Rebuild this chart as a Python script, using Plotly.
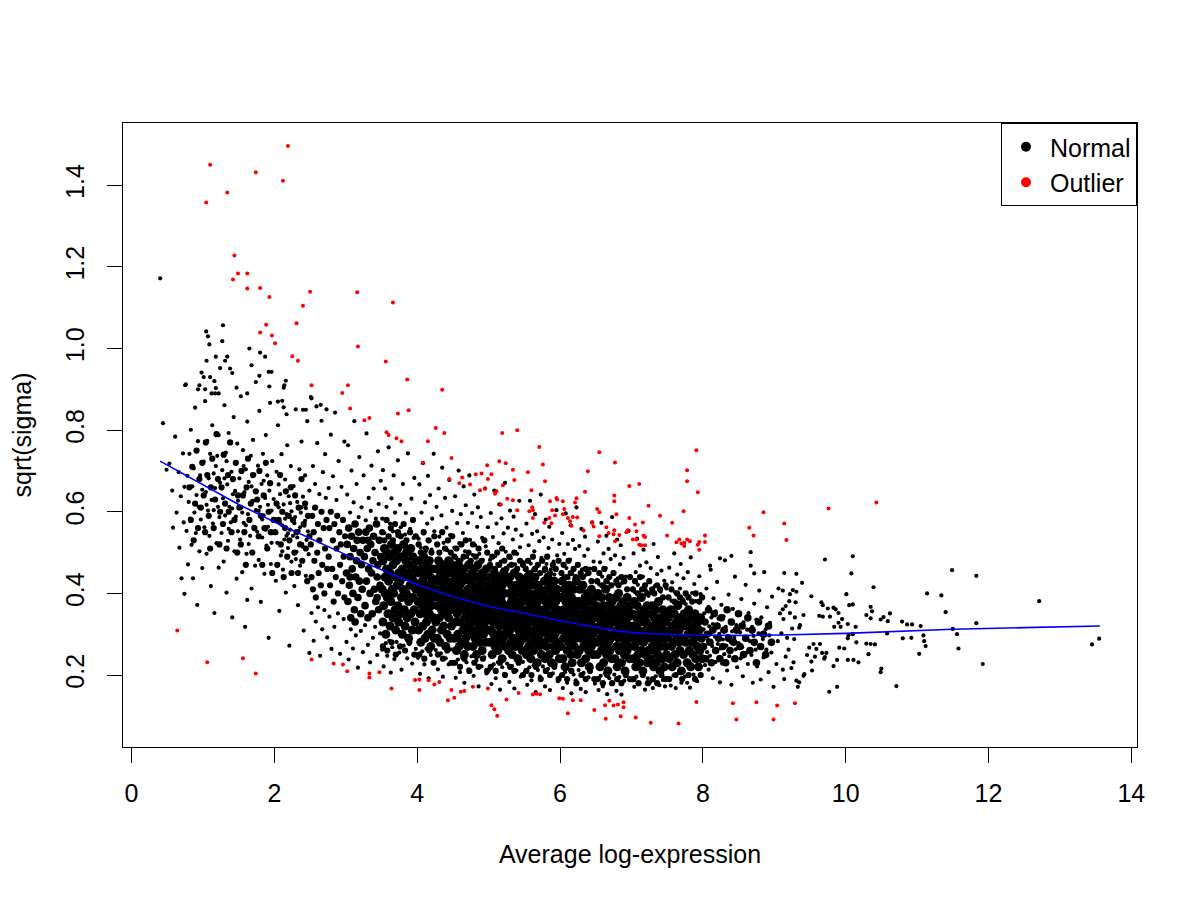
import plotly.graph_objects as go

# ---------------- data ----------------
# sparse left part of the cloud (x < 2.5)
left_pts = [
 (0.40,1.172),(0.44,0.817),(0.49,0.703),(0.53,0.718),(0.57,0.652),(0.58,0.561),(0.61,0.784),(0.63,0.598),
 (0.66,0.697),(0.67,0.512),(0.69,0.638),(0.70,0.437),(0.72,0.743),(0.73,0.574),(0.74,0.661),(0.74,0.399),
 (0.75,0.91),(0.76,0.912),(0.77,0.553),(0.78,0.688),(0.79,0.471),(0.80,0.624),(0.81,0.742),(0.82,0.583),
 (0.83,0.801),(0.84,0.519),(0.85,0.662),(0.86,0.437),(0.87,0.706),(0.88,0.598),(0.89,0.855),(0.90,0.548),
 (0.91,0.641),(0.92,0.372),(0.93,0.773),(0.94,0.612),(0.95,0.503),(0.96,0.689),(0.97,0.581),(0.98,0.941),
 (0.99,0.654),(0.99,0.462),(0.93,0.90),(0.95,0.91),
 (1.01,0.723),(1.02,0.562),(1.03,0.871),(1.04,0.648),(1.045,1.042),(1.05,0.497),(1.06,0.774),(1.07,1.03),
 (1.07,0.603),(1.08,0.682),(1.09,1.01),(1.09,0.541),(1.10,0.742),(1.11,0.418),(1.12,0.629),(1.13,0.812),
 (1.14,0.571),(1.15,0.694),(1.16,0.352),(1.17,0.658),(1.18,0.903),(1.19,0.523),(1.20,0.737),(1.21,0.612),
 (1.22,0.463),(1.22,0.788),(1.23,0.587),(1.24,0.671),(1.24,0.952),(1.15,0.604),(1.05,0.617),(1.18,0.712),
 (1.01,0.93),(1.03,0.90),(1.05,0.97),(1.10,0.93),(1.12,0.89),(1.16,0.92),(1.17,0.89),(1.18,0.98),(1.22,0.89),
 (1.26,0.548),(1.27,0.702),(1.27,1.018),(1.28,1.057),(1.28,0.633),(1.29,0.478),(1.30,0.861),(1.31,0.591),
 (1.31,0.97),(1.32,0.745),(1.33,0.402),(1.34,0.667),(1.34,0.98),(1.35,0.529),(1.36,0.793),(1.37,0.612),
 (1.38,0.951),(1.39,0.574),(1.40,0.698),(1.41,0.341),(1.41,0.94),(1.42,0.643),(1.43,0.832),(1.44,0.503),
 (1.45,0.719),(1.46,0.588),(1.47,0.436),(1.48,0.767),(1.49,0.627),(1.49,0.552),(1.30,0.682),(1.36,0.558),
 (1.41,0.608),(1.45,0.651),(1.33,0.724),(1.47,0.904),
 (1.51,0.682),(1.52,0.532),(1.53,0.883),(1.54,0.611),(1.55,0.452),(1.56,0.751),(1.57,0.573),(1.58,0.648),
 (1.59,0.318),(1.60,0.704),(1.61,0.497),(1.62,0.821),(1.62,0.89),(1.63,0.594),(1.64,0.673),(1.65,1.0),
 (1.66,0.541),(1.67,0.737),(1.68,0.412),(1.68,0.959),(1.69,0.627),(1.70,0.776),(1.71,0.563),(1.72,0.691),
 (1.73,0.468),(1.74,0.918),(1.74,0.604),(1.55,0.598),(1.60,0.567),(1.64,0.521),(1.68,0.662),(1.71,0.627),
 (1.57,0.712),(1.62,0.384),
 (1.76,0.551),(1.77,0.713),(1.78,0.482),(1.79,0.847),(1.79,0.933),(1.80,0.99),(1.80,0.612),(1.81,0.379),
 (1.82,0.668),(1.83,0.537),(1.84,0.742),(1.85,0.591),(1.86,0.448),(1.87,0.98),(1.87,0.634),(1.88,0.788),
 (1.89,0.517),(1.90,0.689),(1.91,0.563),(1.92,0.291),(1.92,0.943),(1.93,0.652),(1.93,0.907),(1.94,0.867),
 (1.95,0.472),(1.96,0.603),(1.96,0.943),(1.97,0.724),(1.98,0.548),(1.99,0.631),(1.78,0.602),(1.83,0.581),
 (1.88,0.556),(1.91,0.617),(1.96,0.524),(1.85,0.676),
 (2.01,0.582),(2.02,0.431),(2.03,0.698),(2.04,0.524),(2.05,0.812),(2.05,0.87),(2.06,0.611),(2.07,0.357),
 (2.08,0.643),(2.09,0.493),(2.10,0.741),(2.11,0.567),(2.11,0.872),(2.12,0.458),(2.13,0.904),(2.13,0.618),
 (2.13,0.856),(2.14,0.532),(2.14,0.91),(2.15,0.679),(2.16,0.402),(2.16,0.921),(2.17,0.594),(2.17,0.839),
 (2.18,0.763),(2.19,0.511),(2.20,0.638),(2.21,0.272),(2.22,0.556),(2.23,0.712),(2.24,0.478),(2.24,0.601),
 (2.03,0.548),(2.08,0.571),(2.11,0.503),(2.15,0.583),(2.19,0.547),(2.22,0.621),(2.06,0.667),(2.17,0.541),
 (2.26,0.541),(2.27,0.663),(2.28,0.418),(2.29,0.587),(2.30,0.851),(2.31,0.502),(2.32,0.624),(2.33,0.371),
 (2.34,0.553),(2.35,0.704),(2.36,0.468),(2.37,0.598),(2.38,0.772),(2.39,0.521),(2.40,0.637),(2.40,0.85),
 (2.41,0.309),(2.42,0.566),(2.43,0.689),(2.44,0.443),(2.44,0.85),(2.45,0.531),(2.46,0.822),(2.47,0.587),
 (2.48,0.496),(2.49,0.652),(2.49,0.254),(2.28,0.572),(2.32,0.537),(2.36,0.562),(2.40,0.514),(2.44,0.609),
 (2.47,0.552),(2.30,0.484),(2.38,0.611),(2.43,0.578),
]

# moderately dense zone: left band, x 2.5-3.0 band, edges of the dense core
mid_pts = [
 (0.81,.66),(0.83,.58),(0.85,.71),(0.87,.53),(0.89,.62),(0.91,.75),(0.93,.56),(0.95,.68),(0.97,.61),(0.99,.72),
 (1.01,.64),(1.03,.55),(1.04,.77),(1.06,.69),(1.08,.59),(1.10,.51),(1.11,.66),(1.13,.73),(1.15,.56),(1.17,.63),
 (1.19,.79),(1.21,.68),(1.23,.52),(1.24,.60),
 (1.26,.66),(1.28,.57),(1.29,.74),(1.31,.62),(1.33,.51),(1.35,.69),(1.36,.60),(1.38,.77),(1.40,.55),(1.42,.68),
 (1.44,.58),(1.46,.72),(1.48,.50),(1.49,.64),
 (1.51,.61),(1.53,.52),(1.54,.70),(1.56,.64),(1.58,.55),(1.60,.47),(1.61,.66),(1.63,.73),(1.65,.58),(1.67,.62),
 (1.69,.50),(1.70,.69),(1.72,.56),(1.74,.65),
 (1.76,.63),(1.78,.54),(1.79,.70),(1.81,.59),(1.83,.47),(1.85,.64),(1.86,.56),(1.88,.72),(1.90,.51),(1.92,.60),
 (1.94,.67),(1.95,.55),(1.97,.45),(1.99,.58),
 (2.01,.55),(2.03,.62),(2.04,.47),(2.06,.58),(2.08,.69),(2.09,.52),(2.11,.60),(2.13,.44),(2.15,.56),(2.16,.65),
 (2.18,.49),(2.20,.59),(2.21,.53),(2.23,.66),(2.24,.45),
 (2.26,.58),(2.28,.50),(2.29,.64),(2.31,.55),(2.33,.45),(2.34,.61),(2.36,.52),(2.38,.68),(2.39,.48),(2.41,.57),
 (2.43,.62),(2.44,.51),(2.46,.43),(2.47,.59),(2.49,.54),
 (2.51,.52),(2.52,.44),(2.53,.59),(2.54,.41),(2.55,.55),(2.56,.48),(2.57,.61),(2.58,.39),(2.60,.50),(2.61,.57),
 (2.62,.45),(2.63,.53),(2.65,.42),(2.66,.60),(2.67,.47),(2.69,.56),(2.70,.40),(2.71,.51),(2.73,.58),(2.74,.46),
 (2.76,.49),(2.77,.56),(2.78,.42),(2.79,.60),(2.81,.46),(2.82,.53),(2.83,.38),(2.84,.57),(2.86,.44),(2.87,.51),
 (2.88,.59),(2.89,.40),(2.91,.55),(2.92,.47),(2.93,.52),(2.95,.43),(2.96,.58),(2.97,.49),(2.98,.39),(2.99,.54),
 (3.51,.55),(3.54,.53),(3.57,.58),(3.60,.54),(3.63,.56),(3.66,.53),(3.69,.57),(3.73,.55),(3.77,.54),(3.81,.57),
 (3.85,.53),(3.90,.55),(3.94,.58),(3.98,.54),
 (3.52,.27),(3.58,.26),(3.64,.28),(3.70,.25),(3.76,.27),(3.83,.26),(3.89,.28),(3.96,.25),
 (4.02,.52),(4.05,.50),(4.09,.55),(4.12,.51),(4.16,.53),(4.20,.50),(4.24,.54),(4.28,.52),(4.31,.50),(4.35,.55),
 (4.39,.51),(4.43,.53),(4.47,.50),(4.49,.54),
 (4.03,.25),(4.10,.24),(4.17,.26),(4.23,.23),(4.29,.25),(4.36,.24),(4.42,.26),(4.48,.23),
 (4.52,.49),(4.55,.51),(4.58,.48),(4.62,.52),(4.65,.49),(4.68,.53),(4.72,.50),(4.75,.48),(4.78,.52),(4.82,.49),
 (4.86,.51),(4.90,.48),(4.94,.53),(4.98,.50),
 (4.53,.23),(4.60,.22),(4.66,.24),(4.73,.21),(4.80,.23),(4.86,.22),(4.92,.24),(4.98,.21),
 (5.02,.47),(5.05,.49),(5.09,.46),(5.12,.50),(5.15,.47),(5.19,.51),(5.22,.48),(5.25,.46),(5.29,.49),(5.32,.47),
 (5.36,.50),(5.40,.46),(5.44,.48),(5.48,.47),
 (5.03,.22),(5.10,.21),(5.16,.23),(5.23,.20),(5.30,.22),(5.36,.21),(5.42,.23),(5.48,.20),
 (5.52,.46),(5.55,.48),(5.59,.45),(5.62,.49),(5.65,.46),(5.69,.47),(5.72,.45),(5.75,.48),(5.79,.46),(5.82,.49),
 (5.86,.45),(5.90,.47),(5.94,.46),(5.98,.48),
 (5.53,.21),(5.60,.20),(5.66,.22),(5.73,.19),(5.80,.21),(5.86,.20),(5.92,.22),(5.98,.19),
 (6.02,.45),(6.05,.47),(6.09,.44),(6.12,.48),(6.15,.45),(6.19,.46),(6.22,.44),(6.25,.47),(6.29,.45),(6.32,.44),
 (6.36,.46),(6.40,.45),(6.44,.43),(6.48,.46),
 (6.03,.20),(6.10,.19),(6.16,.21),(6.23,.18),(6.30,.20),(6.36,.19),(6.42,.21),(6.48,.19),
 (6.52,.43),(6.55,.45),(6.59,.42),(6.62,.46),(6.65,.43),(6.69,.44),(6.72,.42),(6.75,.45),(6.79,.43),(6.82,.42),
 (6.86,.44),(6.90,.43),(6.94,.41),(6.98,.44),
 (6.53,.19),(6.60,.18),(6.66,.20),(6.73,.18),(6.80,.19),(6.86,.18),(6.92,.20),(6.98,.19),
 (7.02,.41),(7.05,.43),(7.09,.40),(7.12,.44),(7.15,.41),(7.19,.42),(7.22,.40),(7.25,.43),(7.29,.41),(7.32,.40),
 (7.36,.42),(7.40,.41),(7.44,.39),(7.48,.42),
 (7.03,.19),(7.10,.18),(7.16,.20),(7.23,.18),(7.30,.19),(7.36,.18),(7.42,.20),(7.48,.19),
 (7.52,.39),(7.56,.41),(7.60,.38),(7.64,.40),(7.68,.39),(7.72,.38),(7.76,.40),(7.80,.39),(7.85,.38),(7.90,.40),
 (7.95,.38),(7.99,.39),
 (7.53,.19),(7.62,.20),(7.71,.19),(7.80,.20),(7.89,.19),(7.97,.20),
]

# transition zones on both sides of the darkest band (x 3.0-3.5 and x 8-9)
fringe_pts = [
 (3.01,.45),(3.02,.52),(3.03,.38),(3.04,.56),(3.05,.42),(3.06,.49),(3.07,.34),(3.08,.54),(3.09,.46),(3.10,.40),
 (3.11,.51),(3.12,.36),(3.13,.57),(3.14,.44),(3.15,.48),(3.16,.53),(3.17,.39),(3.18,.55),(3.19,.43),(3.20,.50),
 (3.21,.35),(3.22,.47),(3.23,.41),(3.24,.53),(3.13,.33),(3.06,.44),
 (3.26,.49),(3.27,.37),(3.28,.55),(3.29,.43),(3.30,.51),(3.31,.34),(3.32,.46),(3.33,.56),(3.34,.40),(3.35,.52),
 (3.36,.45),(3.37,.35),(3.38,.48),(3.39,.54),(3.40,.41),(3.41,.50),(3.42,.38),(3.43,.57),(3.44,.44),(3.45,.47),
 (3.46,.36),(3.47,.53),(3.48,.42),(3.49,.49),(3.31,.53),(3.44,.39),
 (8.01,.27),(8.03,.33),(8.04,.24),(8.06,.30),(8.08,.36),(8.10,.28),(8.12,.23),(8.14,.31),(8.16,.35),(8.18,.26),
 (8.20,.32),(8.22,.29),(8.24,.24),(8.26,.34),(8.28,.27),(8.30,.31),(8.32,.23),(8.34,.36),(8.36,.29),(8.38,.26),
 (8.40,.33),(8.43,.28),(8.45,.24),(8.47,.31),(8.50,.35),(8.52,.27),(8.55,.32),(8.57,.25),(8.60,.29),(8.63,.34),
 (8.66,.26),(8.69,.31),(8.72,.28),(8.75,.23),(8.78,.33),(8.81,.27),(8.85,.30),(8.88,.25),(8.92,.32),(8.96,.28),
]

# darkest band of the cloud (3.5 <= x < 8)
core_pts = [
 (3.51,.41),(3.52,.33),(3.52,.48),(3.53,.37),(3.54,.51),(3.55,.44),(3.56,.30),(3.57,.46),(3.58,.39),(3.58,.50),
 (3.59,.35),(3.60,.43),(3.61,.49),(3.62,.32),(3.62,.45),(3.63,.38),(3.64,.52),(3.65,.41),(3.66,.34),(3.66,.47),
 (3.67,.40),(3.68,.50),(3.69,.36),(3.70,.44),(3.70,.31),(3.71,.48),(3.72,.42),(3.73,.37),(3.73,.51),(3.74,.45),
 (3.74,.33),(3.55,.40),
 (3.76,.43),(3.76,.35),(3.77,.49),(3.78,.39),(3.79,.30),(3.79,.46),(3.80,.41),(3.81,.52),(3.82,.36),(3.82,.44),
 (3.83,.32),(3.84,.48),(3.85,.40),(3.85,.50),(3.86,.34),(3.87,.45),(3.88,.38),(3.88,.29),(3.89,.47),(3.90,.42),
 (3.91,.51),(3.91,.35),(3.92,.44),(3.93,.31),(3.94,.39),(3.94,.49),(3.95,.43),(3.96,.36),(3.97,.46),(3.97,.33),
 (3.98,.41),(3.99,.48),
 (4.01,.38),(4.01,.45),(4.02,.31),(4.03,.42),(4.03,.48),(4.04,.35),(4.05,.40),(4.05,.28),(4.06,.46),(4.07,.37),
 (4.07,.43),(4.08,.32),(4.09,.49),(4.09,.39),(4.10,.44),(4.11,.29),(4.11,.36),(4.12,.41),(4.13,.47),(4.13,.33),
 (4.14,.38),(4.15,.45),(4.15,.30),(4.16,.42),(4.17,.35),(4.17,.48),(4.18,.40),(4.19,.27),(4.19,.44),(4.20,.37),
 (4.21,.31),(4.21,.46),(4.22,.39),(4.23,.43),(4.23,.34),(4.24,.41),(4.24,.29),(4.12,.35),
 (4.26,.40),(4.26,.33),(4.27,.46),(4.28,.37),(4.28,.29),(4.29,.43),(4.30,.39),(4.30,.48),(4.31,.34),(4.32,.41),
 (4.32,.28),(4.33,.45),(4.34,.36),(4.34,.31),(4.35,.42),(4.36,.38),(4.36,.47),(4.37,.32),(4.38,.44),(4.38,.35),
 (4.39,.40),(4.40,.27),(4.40,.46),(4.41,.37),(4.42,.43),(4.42,.30),(4.43,.39),(4.44,.48),(4.44,.34),(4.45,.41),
 (4.46,.29),(4.46,.45),(4.47,.36),(4.48,.42),(4.48,.32),(4.49,.38),(4.49,.47),(4.31,.44),
 (4.51,.36),(4.51,.43),(4.52,.29),(4.52,.40),(4.53,.46),(4.54,.33),(4.54,.38),(4.55,.26),(4.55,.44),(4.56,.35),
 (4.57,.41),(4.57,.30),(4.58,.47),(4.58,.37),(4.59,.27),(4.60,.42),(4.60,.33),(4.61,.39),(4.62,.45),(4.62,.28),
 (4.63,.36),(4.64,.43),(4.64,.31),(4.65,.38),(4.66,.25),(4.66,.46),(4.67,.34),(4.67,.40),(4.68,.29),(4.69,.44),
 (4.69,.36),(4.70,.32),(4.71,.41),(4.71,.27),(4.72,.47),(4.72,.38),(4.73,.34),(4.74,.43),(4.74,.30),(4.56,.45),
 (4.63,.40),(4.70,.37),
 (4.76,.39),(4.76,.31),(4.77,.45),(4.77,.35),(4.78,.27),(4.79,.42),(4.79,.37),(4.80,.33),(4.80,.46),(4.81,.29),
 (4.82,.40),(4.82,.36),(4.83,.44),(4.83,.25),(4.84,.31),(4.85,.38),(4.85,.47),(4.86,.34),(4.87,.41),(4.87,.28),
 (4.88,.36),(4.89,.43),(4.89,.32),(4.90,.39),(4.91,.26),(4.91,.45),(4.92,.35),(4.93,.41),(4.93,.30),(4.94,.37),
 (4.95,.44),(4.95,.33),(4.96,.28),(4.97,.40),(4.97,.46),(4.98,.35),(4.99,.31),(4.99,.42),(4.78,.41),(4.84,.35),
 (4.90,.30),(4.96,.38),
 (5.01,.34),(5.01,.41),(5.02,.28),(5.02,.37),(5.03,.44),(5.04,.31),(5.04,.39),(5.05,.25),(5.05,.35),(5.06,.42),
 (5.07,.30),(5.07,.38),(5.08,.45),(5.08,.33),(5.09,.27),(5.10,.40),(5.10,.36),(5.11,.29),(5.12,.43),(5.12,.34),
 (5.13,.38),(5.13,.26),(5.14,.41),(5.15,.32),(5.15,.44),(5.16,.36),(5.17,.28),(5.17,.39),(5.18,.33),(5.19,.42),
 (5.19,.24),(5.20,.37),(5.21,.30),(5.21,.45),(5.22,.35),(5.22,.40),(5.23,.27),(5.24,.43),(5.24,.32),(5.03,.36),
 (5.09,.42),(5.14,.30),(5.18,.38),(5.06,.33),(5.20,.29),
 (5.26,.37),(5.26,.30),(5.27,.43),(5.27,.34),(5.28,.26),(5.29,.40),(5.29,.35),(5.30,.31),(5.30,.44),(5.31,.28),
 (5.32,.38),(5.32,.42),(5.33,.33),(5.33,.25),(5.34,.36),(5.35,.41),(5.35,.29),(5.36,.45),(5.37,.34),(5.37,.38),
 (5.38,.27),(5.39,.32),(5.39,.42),(5.40,.36),(5.41,.24),(5.41,.40),(5.42,.31),(5.43,.44),(5.43,.35),(5.44,.28),
 (5.45,.38),(5.45,.33),(5.46,.41),(5.47,.26),(5.47,.36),(5.48,.43),(5.48,.30),(5.49,.39),(5.49,.34),(5.28,.32),
 (5.34,.39),(5.40,.29),(5.44,.37),(5.31,.35),(5.46,.31),
 (5.51,.35),(5.51,.29),(5.52,.41),(5.52,.33),(5.53,.25),(5.54,.38),(5.54,.44),(5.55,.31),(5.55,.36),(5.56,.27),
 (5.57,.40),(5.57,.34),(5.58,.43),(5.58,.30),(5.59,.24),(5.60,.37),(5.60,.33),(5.61,.28),(5.62,.42),(5.62,.35),
 (5.63,.39),(5.63,.26),(5.64,.31),(5.65,.44),(5.65,.36),(5.66,.29),(5.67,.40),(5.67,.33),(5.68,.23),(5.69,.38),
 (5.69,.42),(5.70,.32),(5.71,.27),(5.71,.36),(5.72,.41),(5.72,.30),(5.73,.34),(5.74,.25),(5.74,.39),(5.53,.32),
 (5.59,.39),(5.64,.35),(5.70,.28),(5.56,.42),(5.66,.37),
 (5.76,.33),(5.76,.40),(5.77,.28),(5.77,.36),(5.78,.43),(5.79,.31),(5.79,.24),(5.80,.38),(5.80,.34),(5.81,.27),
 (5.82,.41),(5.82,.35),(5.83,.30),(5.83,.44),(5.84,.37),(5.85,.25),(5.85,.32),(5.86,.39),(5.87,.29),(5.87,.42),
 (5.88,.34),(5.88,.23),(5.89,.37),(5.90,.31),(5.90,.40),(5.91,.27),(5.92,.35),(5.92,.43),(5.93,.30),(5.94,.38),
 (5.94,.26),(5.95,.33),(5.96,.41),(5.96,.36),(5.97,.28),(5.98,.39),(5.98,.32),(5.99,.24),(5.99,.35),(5.78,.32),
 (5.84,.29),(5.89,.33),(5.93,.36),(5.81,.38),(5.97,.31),
 (6.01,.33),(6.01,.27),(6.02,.39),(6.03,.31),(6.03,.43),(6.04,.24),(6.05,.36),(6.05,.29),(6.06,.41),(6.07,.34),
 (6.07,.22),(6.08,.38),(6.09,.30),(6.09,.35),(6.10,.26),(6.11,.40),(6.11,.32),(6.12,.28),(6.13,.37),(6.13,.42),
 (6.14,.33),(6.15,.25),(6.15,.30),(6.16,.39),(6.17,.35),(6.17,.23),(6.18,.31),(6.19,.41),(6.19,.36),(6.20,.27),
 (6.21,.34),(6.21,.38),(6.22,.29),(6.23,.43),(6.23,.32),(6.24,.25),(6.24,.37),(6.04,.35),(6.10,.31),(6.16,.28),
 (6.22,.34),(6.12,.36),
 (6.26,.32),(6.26,.38),(6.27,.26),(6.28,.35),(6.28,.41),(6.29,.29),(6.30,.33),(6.30,.23),(6.31,.37),(6.32,.30),
 (6.32,.42),(6.33,.27),(6.34,.35),(6.34,.31),(6.35,.39),(6.36,.24),(6.36,.33),(6.37,.28),(6.38,.36),(6.38,.40),
 (6.39,.31),(6.40,.26),(6.40,.34),(6.41,.22),(6.42,.38),(6.42,.29),(6.43,.33),(6.44,.41),(6.44,.27),(6.45,.36),
 (6.46,.30),(6.46,.25),(6.47,.34),(6.48,.39),(6.48,.31),(6.49,.28),(6.49,.35),(6.27,.30),(6.33,.37),(6.39,.27),
 (6.45,.32),(6.31,.34),
 (6.51,.31),(6.51,.37),(6.52,.25),(6.53,.34),(6.53,.40),(6.54,.28),(6.55,.32),(6.56,.22),(6.56,.36),(6.57,.29),
 (6.58,.39),(6.58,.26),(6.59,.33),(6.60,.30),(6.61,.37),(6.61,.23),(6.62,.32),(6.63,.27),(6.63,.35),(6.64,.41),
 (6.65,.30),(6.65,.25),(6.66,.34),(6.67,.21),(6.67,.37),(6.68,.28),(6.69,.32),(6.69,.39),(6.70,.26),(6.71,.35),
 (6.71,.29),(6.72,.24),(6.73,.33),(6.73,.38),(6.74,.30),(6.54,.35),(6.62,.29),(6.70,.33),
 (6.76,.30),(6.76,.36),(6.77,.24),(6.78,.33),(6.78,.39),(6.79,.27),(6.80,.31),(6.80,.22),(6.81,.35),(6.82,.29),
 (6.82,.40),(6.83,.26),(6.84,.33),(6.84,.30),(6.85,.37),(6.86,.23),(6.86,.32),(6.87,.27),(6.88,.35),(6.88,.38),
 (6.89,.29),(6.90,.25),(6.90,.33),(6.91,.21),(6.92,.36),(6.92,.28),(6.93,.31),(6.94,.39),(6.94,.26),(6.95,.34),
 (6.96,.29),(6.97,.24),(6.97,.32),(6.98,.37),(6.99,.30),(6.79,.34),(6.87,.31),(6.95,.27),
 (7.01,.29),(7.01,.35),(7.02,.24),(7.03,.32),(7.04,.38),(7.04,.27),(7.05,.30),(7.06,.22),(7.07,.34),(7.07,.28),
 (7.08,.37),(7.09,.25),(7.10,.31),(7.11,.35),(7.11,.23),(7.12,.29),(7.13,.33),(7.14,.26),(7.14,.39),(7.15,.30),
 (7.16,.21),(7.17,.34),(7.17,.28),(7.18,.36),(7.19,.25),(7.20,.31),(7.21,.33),(7.22,.23),(7.22,.37),(7.23,.29),
 (7.24,.32),(7.24,.26),
 (7.26,.30),(7.26,.35),(7.27,.24),(7.28,.32),(7.29,.37),(7.29,.27),(7.30,.29),(7.31,.22),(7.32,.34),(7.32,.26),
 (7.33,.31),(7.34,.36),(7.35,.23),(7.36,.28),(7.36,.33),(7.37,.25),(7.38,.38),(7.39,.30),(7.40,.21),(7.40,.34),
 (7.41,.27),(7.42,.32),(7.43,.24),(7.44,.36),(7.44,.29),(7.45,.31),(7.46,.22),(7.47,.35),(7.47,.27),(7.48,.33),
 (7.49,.25),(7.49,.30),
 (7.51,.29),(7.52,.34),(7.53,.24),(7.54,.31),(7.55,.36),(7.56,.27),(7.57,.22),(7.58,.32),(7.59,.28),(7.60,.35),
 (7.61,.25),(7.62,.30),(7.63,.33),(7.64,.23),(7.65,.37),(7.66,.28),(7.67,.31),(7.68,.26),(7.69,.34),(7.70,.21),
 (7.71,.29),(7.72,.32),(7.73,.25),(7.74,.35),
 (7.76,.28),(7.77,.33),(7.78,.23),(7.79,.30),(7.80,.36),(7.81,.26),(7.82,.31),(7.83,.22),(7.84,.34),(7.85,.28),
 (7.86,.25),(7.87,.32),(7.88,.29),(7.89,.35),(7.90,.24),(7.91,.30),(7.92,.27),(7.93,.33),(7.94,.22),(7.95,.31),
 (7.96,.26),(7.97,.34),(7.98,.29),(7.99,.24),
]

# scattered points above / below the dense band (2.5 <= x < 8)
outer_pts = [
 (2.51,.881),(2.52,.352),(2.52,.878),(2.54,.712),(2.55,.284),(2.57,.668),(2.58,.331),(2.59,.858),(2.60,.768),
 (2.61,.366),(2.63,.643),(2.64,.247),(2.65,.862),(2.66,.823),(2.67,.312),(2.68,.697),(2.70,.359),(2.71,.741),
 (2.72,.634),(2.73,.851),(2.74,.292),(2.76,.658),(2.77,.343),(2.79,.789),(2.80,.264),(2.82,.687),(2.84,.318),
 (2.85,.843),(2.87,.629),(2.89,.351),(2.90,.724),(2.92,.252),(2.94,.661),(2.97,.337),(2.98,.772),
 (3.01,.281),(3.02,.642),(3.03,.763),(3.04,.238),(3.06,.598),(3.07,.312),(3.08,.701),(3.10,.265),(3.11,.623),
 (3.12,.822),(3.14,.297),(3.15,.668),(3.17,.218),(3.18,.587),(3.19,.734),(3.21,.308),(3.22,.611),(3.24,.256),
 (3.25,.689),(3.27,.322),(3.28,.579),(3.29,.792),(3.31,.274),(3.32,.634),(3.34,.231),(3.35,.602),(3.36,.713),
 (3.38,.291),(3.39,.657),(3.41,.318),(3.42,.583),(3.44,.249),(3.45,.748),(3.46,.619),(3.48,.302),(3.49,.676),
 (3.51,.262),(3.51,.583),(3.52,.702),(3.53,.221),(3.54,.548),(3.55,.657),(3.56,.278),(3.57,.612),(3.58,.247),
 (3.59,.537),(3.60,.758),(3.61,.284),(3.62,.571),(3.63,.206),(3.64,.633),(3.65,.268),(3.66,.552),(3.67,.689),
 (3.68,.239),(3.69,.598),(3.71,.281),(3.72,.541),(3.73,.726),(3.75,.255),(3.76,.617),(3.77,.562),(3.78,.213),
 (3.80,.668),(3.81,.272),(3.83,.544),(3.84,.597),(3.86,.241),(3.87,.743),(3.89,.276),(3.90,.558),(3.92,.632),
 (3.93,.228),(3.95,.536),(3.96,.683),(3.98,.264),
 (4.01,.242),(4.02,.534),(4.03,.667),(4.04,.203),(4.05,.512),(4.06,.598),(4.07,.258),(4.08,.719),(4.09,.547),
 (4.10,.226),(4.11,.623),(4.12,.503),(4.13,.264),(4.14,.571),(4.15,.688),(4.16,.192),(4.17,.528),(4.18,.641),
 (4.19,.249),(4.20,.507),(4.21,.583),(4.22,.231),(4.23,.742),(4.24,.552),(4.26,.261),(4.27,.612),(4.28,.518),
 (4.29,.214),(4.30,.657),(4.31,.539),(4.33,.253),(4.34,.591),(4.35,.708),(4.36,.196),(4.37,.524),(4.39,.634),
 (4.40,.241),(4.41,.561),(4.42,.506),(4.44,.226),(4.45,.678),(4.46,.543),(4.47,.263),(4.49,.602),
 (4.51,.228),(4.52,.512),(4.53,.638),(4.54,.193),(4.55,.487),(4.56,.572),(4.57,.238),(4.58,.701),(4.59,.523),
 (4.60,.207),(4.61,.594),(4.62,.481),(4.63,.242),(4.64,.548),(4.65,.662),(4.66,.181),(4.67,.503),(4.68,.616),
 (4.69,.231),(4.70,.489),(4.71,.573),(4.72,.214),(4.73,.689),(4.74,.531),(4.76,.246),(4.77,.597),(4.78,.494),
 (4.79,.198),(4.80,.642),(4.81,.518),(4.83,.236),(4.84,.563),(4.85,.611),(4.86,.172),(4.87,.497),(4.89,.587),
 (4.90,.221),(4.91,.536),(4.92,.482),(4.94,.243),(4.95,.657),(4.96,.515),(4.97,.204),(4.99,.562),
 (5.01,.213),(5.02,.482),(5.03,.597),(5.04,.178),(5.05,.463),(5.06,.538),(5.07,.226),(5.08,.652),(5.09,.491),
 (5.10,.192),(5.11,.571),(5.12,.472),(5.13,.231),(5.14,.523),(5.15,.618),(5.16,.164),(5.17,.478),(5.18,.584),
 (5.19,.219),(5.20,.459),(5.21,.547),(5.22,.203),(5.23,.671),(5.24,.502),(5.26,.228),(5.27,.561),(5.28,.468),
 (5.29,.183),(5.30,.603),(5.31,.487),(5.33,.222),(5.34,.532),(5.35,.588),(5.36,.167),(5.37,.471),(5.38,.556),
 (5.39,.211),(5.40,.497),(5.41,.461),(5.42,.236),(5.43,.627),(5.44,.513),(5.45,.196),(5.46,.542),(5.48,.232),
 (5.49,.476),
 (5.51,.208),(5.52,.463),(5.53,.571),(5.54,.176),(5.55,.452),(5.56,.518),(5.57,.219),(5.58,.627),(5.59,.473),
 (5.60,.187),(5.61,.546),(5.62,.457),(5.63,.224),(5.64,.503),(5.65,.594),(5.66,.158),(5.67,.466),(5.68,.552),
 (5.69,.212),(5.70,.448),(5.71,.528),(5.72,.196),(5.73,.642),(5.74,.487),(5.76,.221),(5.77,.537),(5.78,.454),
 (5.79,.172),(5.80,.581),(5.81,.472),(5.83,.215),(5.84,.511),(5.85,.563),(5.86,.163),(5.87,.459),(5.89,.532),
 (5.90,.204),(5.91,.478),(5.92,.446),(5.94,.227),(5.95,.604),(5.96,.493),(5.97,.185),(5.99,.521),
 (6.01,.198),(6.02,.452),(6.03,.548),(6.04,.168),(6.05,.441),(6.06,.497),(6.07,.207),(6.08,.596),(6.09,.462),
 (6.10,.181),(6.11,.521),(6.12,.438),(6.13,.213),(6.14,.483),(6.15,.567),(6.16,.155),(6.17,.449),(6.18,.531),
 (6.19,.201),(6.20,.436),(6.21,.509),(6.22,.187),(6.23,.611),(6.24,.471),(6.26,.212),(6.27,.516),(6.28,.443),
 (6.29,.166),(6.30,.558),(6.31,.459),(6.33,.205),(6.34,.492),(6.35,.539),(6.36,.158),(6.37,.446),(6.39,.508),
 (6.40,.194),(6.42,.461),(6.44,.216),(6.45,.574),(6.47,.478),(6.49,.179),
 (6.51,.189),(6.52,.431),(6.53,.527),(6.54,.163),(6.55,.422),(6.56,.476),(6.57,.198),(6.58,.573),(6.59,.441),
 (6.60,.172),(6.61,.498),(6.62,.418),(6.63,.204),(6.64,.462),(6.65,.541),(6.66,.153),(6.67,.428),(6.68,.509),
 (6.69,.192),(6.70,.416),(6.71,.484),(6.72,.178),(6.73,.587),(6.74,.452),(6.76,.201),(6.77,.493),(6.78,.424),
 (6.79,.161),(6.80,.532),(6.81,.437),(6.83,.195),(6.84,.471),(6.85,.518),(6.86,.152),(6.87,.426),(6.89,.487),
 (6.90,.186),(6.92,.441),(6.94,.206),(6.96,.553),
 (7.01,.187),(7.02,.412),(7.03,.498),(7.04,.171),(7.05,.403),(7.06,.452),(7.07,.196),(7.08,.534),(7.09,.421),
 (7.10,.178),(7.12,.468),(7.13,.397),(7.15,.203),(7.16,.441),(7.17,.507),(7.19,.164),(7.20,.408),(7.21,.476),
 (7.23,.192),(7.24,.394),(7.26,.182),(7.27,.462),(7.28,.401),(7.30,.168),(7.31,.521),(7.33,.418),(7.34,.197),
 (7.36,.447),(7.37,.489),(7.39,.175),(7.41,.404),(7.42,.456),(7.44,.188),(7.46,.431),(7.47,.172),(7.49,.412),
 (7.51,.192),(7.52,.391),(7.53,.463),(7.55,.174),(7.56,.382),(7.57,.427),(7.59,.199),(7.60,.498),(7.61,.403),
 (7.62,.168),(7.64,.446),(7.65,.378),(7.66,.205),(7.68,.412),(7.69,.472),(7.70,.181),(7.72,.386),(7.73,.437),
 (7.75,.196),(7.76,.374),(7.78,.181),(7.79,.452),(7.80,.393),(7.82,.169),(7.83,.488),(7.85,.401),(7.87,.201),
 (7.88,.423),(7.90,.381),(7.92,.185),(7.95,.442),(7.97,.398),
]

# thinning right part of the cloud (x >= 8)
tail_pts = [
 (8.01,.312),(8.02,.268),(8.02,.351),(8.03,.224),(8.04,.297),(8.05,.412),(8.05,.331),(8.06,.256),(8.07,.286),
 (8.08,.367),(8.08,.213),(8.09,.319),(8.10,.247),(8.10,.468),(8.11,.458),(8.11,.302),(8.12,.341),(8.13,.271),
 (8.14,.192),(8.14,.325),(8.15,.388),(8.16,.259),(8.17,.294),(8.18,.232),(8.18,.356),(8.19,.317),(8.20,.428),
 (8.21,.276),(8.22,.243),(8.22,.338),(8.23,.301),(8.24,.182),(8.24,.486),(8.25,.265),(8.26,.372),(8.27,.309),
 (8.27,.228),(8.28,.287),(8.29,.344),(8.30,.251),(8.31,.481),(8.32,.318),(8.33,.272),(8.34,.211),(8.35,.296),
 (8.36,.397),(8.37,.246),(8.38,.333),(8.39,.281),(8.40,.176),(8.40,.492),(8.41,.307),(8.42,.362),(8.43,.238),
 (8.44,.291),(8.45,.441),(8.46,.263),(8.47,.322),(8.48,.219),(8.49,.349),(8.50,.278),(8.52,.305),(8.53,.241),
 (8.54,.386),(8.55,.268),(8.56,.197),(8.57,.329),(8.58,.293),(8.60,.421),(8.61,.254),(8.62,.311),(8.63,.227),
 (8.64,.352),(8.66,.283),(8.67,.468),(8.67,.501),(8.68,.249),(8.69,.318),(8.70,.181),(8.71,.296),(8.72,.375),
 (8.72,.449),(8.74,.262),(8.75,.336),(8.76,.221),(8.78,.302),(8.79,.407),(8.80,.271),(8.81,.189),(8.82,.341),
 (8.84,.288),(8.85,.243),(8.86,.452),(8.88,.312),(8.89,.262),(8.90,.366),(8.92,.207),(8.93,.297),(8.94,.328),
 (8.96,.255),(8.97,.392),(8.98,.281),(8.99,.171),
 (9.03,.227),(9.05,.283),(9.06,.412),(9.08,.351),(9.10,.302),(9.12,.213),(9.12,.361),(9.12,.407),(9.13,.337),
 (9.14,.190),(9.14,.450),(9.16,.245),(9.16,.369),(9.18,.291),(9.20,.262),(9.21,.381),(9.22,.352),(9.22,.398),
 (9.24,.217),(9.25,.314),(9.26,.408),(9.27,.231),(9.28,.288),(9.29,.341),(9.30,.378),(9.31,.186),(9.31,.404),
 (9.31,.448),(9.33,.171),(9.35,.182),(9.35,.316),(9.36,.322),(9.39,.426),(9.41,.198),(9.41,.347),(9.42,.202),
 (9.46,.249),(9.49,.267),(9.52,.233),(9.52,.393),(9.53,.211),(9.55,.276),(9.57,.245),(9.59,.264),(9.63,.345),
 (9.64,.276),(9.66,.378),(9.67,.254),(9.68,.343),(9.68,.371),(9.70,.240),(9.71,.244),(9.71,.483),(9.73,.254),
 (9.75,.363),(9.77,.159),(9.78,.343),(9.83,.222),(9.83,.365),(9.84,.318),(9.86,.361),(9.88,.237),(9.88,.171),
 (9.90,.328),(9.90,.352),(9.91,.267),(9.93,.318),(9.95,.337),(9.98,.265),
 (10.01,.398),(10.03,.325),(10.03,.290),(10.03,.237),(10.04,.297),(10.05,.371),(10.08,.449),(10.10,.491),
 (10.10,.373),(10.10,.300),(10.11,.237),(10.14,.318),(10.15,.280),(10.18,.231),(10.29,.347),(10.29,.277),
 (10.32,.251),(10.35,.367),(10.35,.339),(10.35,.276),(10.37,.356),(10.39,.415),(10.41,.275),(10.49,.336),
 (10.49,.207),(10.50,.216),(10.53,.342),(10.58,.302),(10.59,.332),(10.62,.351),(10.71,.173),(10.79,.331),
 (10.80,.290),(10.86,.324),(10.92,.291),(10.93,.324),(11.03,.252),(11.05,.320),(11.09,.297),(11.10,.283),
 (11.12,.271),(11.14,.400),(11.34,.395),(11.40,.354),(11.49,.457),(11.50,.313),(11.56,.300),(11.58,.265),
 (11.83,.443),(11.83,.327),(11.92,.227),(12.71,.381),(13.45,.275),(13.55,.289),
]

# points flagged as outliers (red)
outlier_pts = [
 (2.19,1.496),(1.10,1.450),(1.74,1.432),(2.12,1.411),(1.34,1.382),(1.045,1.358),(1.44,1.228),(1.49,1.184),
 (1.62,1.184),(1.42,1.169),(1.62,1.147),(1.80,1.148),(1.93,1.126),(2.50,1.139),(3.16,1.138),(3.66,1.113),
 (2.40,1.105),(1.885,1.058),(2.31,1.062),(1.80,1.039),(1.965,1.032),(2.01,1.013),(3.17,1.005),(2.25,0.981),
 (2.33,0.970),(3.56,0.968),(3.86,0.924),(4.35,0.899),(2.52,0.910),(3.03,0.910),(2.95,0.891),(3.06,0.853),
 (3.73,0.841),(3.88,0.849),(3.26,0.824),(3.33,0.830),(3.57,0.795),(3.60,0.788),(3.71,0.780),(3.78,0.773),
 (4.26,0.805),(4.38,0.793),(5.19,0.793),(5.40,0.800),(4.15,0.773),(5.71,0.759),(4.08,0.720),(4.48,0.732),
 (6.55,0.746),(7.91,0.751),(6.77,0.721),(4.98,0.714),(5.15,0.724),(5.24,0.719),(5.76,0.716),(5.34,0.703),
 (5.55,0.697),(6.39,0.699),(7.78,0.702),(7.78,0.675),(4.82,0.692),(4.90,0.694),(5.04,0.692),(4.45,0.680),
 (4.63,0.684),(4.59,0.670),(4.99,0.680),(5.36,0.678),(5.79,0.675),(4.74,0.667),(4.88,0.653),(4.95,0.657),
 (5.20,0.665),(5.60,0.653),(6.97,0.663),(7.11,0.668),(6.35,0.649),(5.11,0.650),(5.09,0.644),(7.93,0.648),
 (6.76,0.640),(6.76,0.626),(5.26,0.632),(5.34,0.628),(5.17,0.618),(5.86,0.626),(5.95,0.634),(5.96,0.630),
 (6.04,0.626),(6.23,0.633),(6.21,0.623),(7.24,0.615),(5.40,0.604),(5.57,0.601),(5.61,0.611),(5.62,0.604),
 (5.89,0.604),(6.06,0.607),(6.52,0.607),(6.55,0.599),(6.79,0.594),(7.73,0.601),(5.93,0.591),(6.04,0.594),
 (5.62,0.585),(5.85,0.585),(6.11,0.585),(6.18,0.587),(6.24,0.586),(6.97,0.585),(7.40,0.590),(6.14,0.577),
 (5.78,0.573),(5.88,0.572),(6.45,0.573),(7.05,0.569),(7.16,0.574),(7.57,0.573),(6.16,0.566),(6.47,0.564),
 (6.65,0.562),(6.76,0.555),(6.33,0.554),(6.95,0.555),(6.93,0.550),(6.68,0.548),(6.75,0.545),(6.83,0.543),
 (7.07,0.552),(7.17,0.541),(7.19,0.538),(7.50,0.542),(8.03,0.542),(8.65,0.561),(8.71,0.542),(6.55,0.540),
 (6.77,0.528),(7.02,0.532),(7.07,0.532),(7.11,0.519),(7.14,0.518),(7.19,0.518),(7.63,0.525),(7.67,0.532),
 (7.70,0.522),(7.74,0.524),(7.74,0.516),(7.78,0.532),(7.82,0.528),(7.93,0.519),(7.95,0.526),(8.03,0.526),
 (7.95,0.507),(9.76,0.608),(10.43,0.623),(9.14,0.571),(9.17,0.531),(8.85,0.599),
 (0.64,0.309),(1.06,0.231),(1.56,0.241),(1.74,0.204),(2.52,0.238),(2.83,0.228),(2.96,0.226),(3.02,0.209),
 (3.33,0.204),(3.33,0.194),(3.47,0.207),(3.64,0.167),(3.97,0.188),(4.03,0.189),(4.03,0.163),(4.16,0.187),
 (4.24,0.177),(4.31,0.183),(4.43,0.138),(4.48,0.163),(4.52,0.144),(4.61,0.159),(4.66,0.161),(4.78,0.171),
 (4.99,0.167),(5.04,0.126),(5.08,0.116),(5.12,0.100),(5.25,0.140),(5.42,0.156),(5.62,0.152),(5.67,0.154),
 (5.72,0.153),(5.99,0.143),(6.04,0.142),(6.11,0.106),(6.18,0.138),(6.29,0.138),(6.48,0.114),(6.63,0.126),
 (6.64,0.093),(6.69,0.137),(6.75,0.125),(6.81,0.128),(6.89,0.133),(6.89,0.121),(6.85,0.099),(7.06,0.096),
 (7.27,0.083),(7.66,0.081),(7.91,0.134),(8.42,0.131),(8.47,0.091),(8.75,0.133),(8.99,0.091),(9.04,0.125),
 (9.29,0.131),
]

# fitted trend (blue line)
trend_x = [0.40, 0.70, 1.05, 1.50, 2.00, 2.50, 3.00, 3.50, 4.05, 4.50, 5.00, 5.45, 6.00, 6.50,
           6.85, 7.25, 7.75, 8.50, 9.10, 10.00, 11.00, 11.50, 12.50, 13.56]
trend_y = [0.724, 0.695, 0.661, 0.618, 0.575, 0.535, 0.495, 0.458, 0.418, 0.392, 0.368, 0.353, 0.333, 0.317,
           0.307, 0.301, 0.298, 0.297, 0.298, 0.302, 0.308, 0.312, 0.316, 0.320]

x_ticks = [0, 2, 4, 6, 8, 10, 12, 14]
y_ticks = [0.2, 0.4, 0.6, 0.8, 1.0, 1.2, 1.4]
y_tick_text = ["0.2", "0.4", "0.6", "0.8", "1.0", "1.2", "1.4"]
legend_names = ["Normal", "Outlier"]
legend_colors = ["black", "red"]

# ---------------- figure ----------------
def xs(p):
    return [a for a, b in p]

def ys(p):
    return [b for a, b in p]

FONT = "Liberation Sans, Arial, Helvetica, sans-serif"
small_pts = left_pts + outer_pts + tail_pts

fig = go.Figure()
fig.add_trace(go.Scatter(x=xs(small_pts), y=ys(small_pts), mode="markers",
                         marker=dict(color="black", size=4.2, line=dict(width=0)),
                         showlegend=False, hoverinfo="skip"))
fig.add_trace(go.Scatter(x=xs(mid_pts), y=ys(mid_pts), mode="markers",
                         marker=dict(color="black", size=6.2, line=dict(width=0)),
                         showlegend=False, hoverinfo="skip"))
fig.add_trace(go.Scatter(x=xs(fringe_pts), y=ys(fringe_pts), mode="markers",
                         marker=dict(color="black", size=7.6, line=dict(width=0)),
                         showlegend=False, hoverinfo="skip"))
fig.add_trace(go.Scatter(x=xs(core_pts), y=ys(core_pts), mode="markers",
                         marker=dict(color="black", size=9, line=dict(width=0)),
                         showlegend=False, hoverinfo="skip"))
fig.add_trace(go.Scatter(x=xs(outlier_pts), y=ys(outlier_pts), mode="markers",
                         marker=dict(color="red", size=4.0, line=dict(width=0)),
                         showlegend=False, hoverinfo="skip"))
fig.add_trace(go.Scatter(x=trend_x, y=trend_y, mode="lines",
                         line=dict(color="blue", width=1.6),
                         showlegend=False, hoverinfo="skip"))
for name, col in zip(legend_names, legend_colors):
    fig.add_trace(go.Scatter(x=[None], y=[None], mode="markers", name=name,
                             marker=dict(color=col, size=10)))

# the page body adds an 8px offset, so the margins are shifted by 8px
fig.update_layout(
    width=1200, height=900,
    margin=dict(l=115, r=71, t=115, b=161, autoexpand=False),
    paper_bgcolor="white", plot_bgcolor="white",
    font=dict(family=FONT, size=25, color="black"),
    legend=dict(x=1, y=1, xanchor="right", yanchor="top",
                bordercolor="black", borderwidth=1, bgcolor="white",
                font=dict(family=FONT, size=25, color="black"),
                itemwidth=38, tracegroupgap=0),
    xaxis=dict(range=[-0.12, 14.08], tickmode="array", tickvals=x_ticks,
               showgrid=False, zeroline=False, showline=True, mirror=True,
               linecolor="black", linewidth=1, ticks="outside", ticklen=15,
               tickcolor="black", tickwidth=1, ticklabelstandoff=9,
               tickfont=dict(family=FONT, size=25, color="black"),
               title=dict(text="Average log-expression", standoff=39,
                          font=dict(family=FONT, size=25, color="black"))),
    yaxis=dict(range=[0.0236, 1.5526], tickmode="array", tickvals=y_ticks, ticktext=y_tick_text,
               tickangle=-90,
               showgrid=False, zeroline=False, showline=True, mirror=True,
               linecolor="black", linewidth=1, ticks="outside", ticklen=15,
               tickcolor="black", tickwidth=1, ticklabelstandoff=13,
               tickfont=dict(family=FONT, size=25, color="black"),
               title=dict(text="sqrt(sigma)", standoff=30,
                          font=dict(family=FONT, size=25, color="black"))),
)

fig.write_html("out.html")
